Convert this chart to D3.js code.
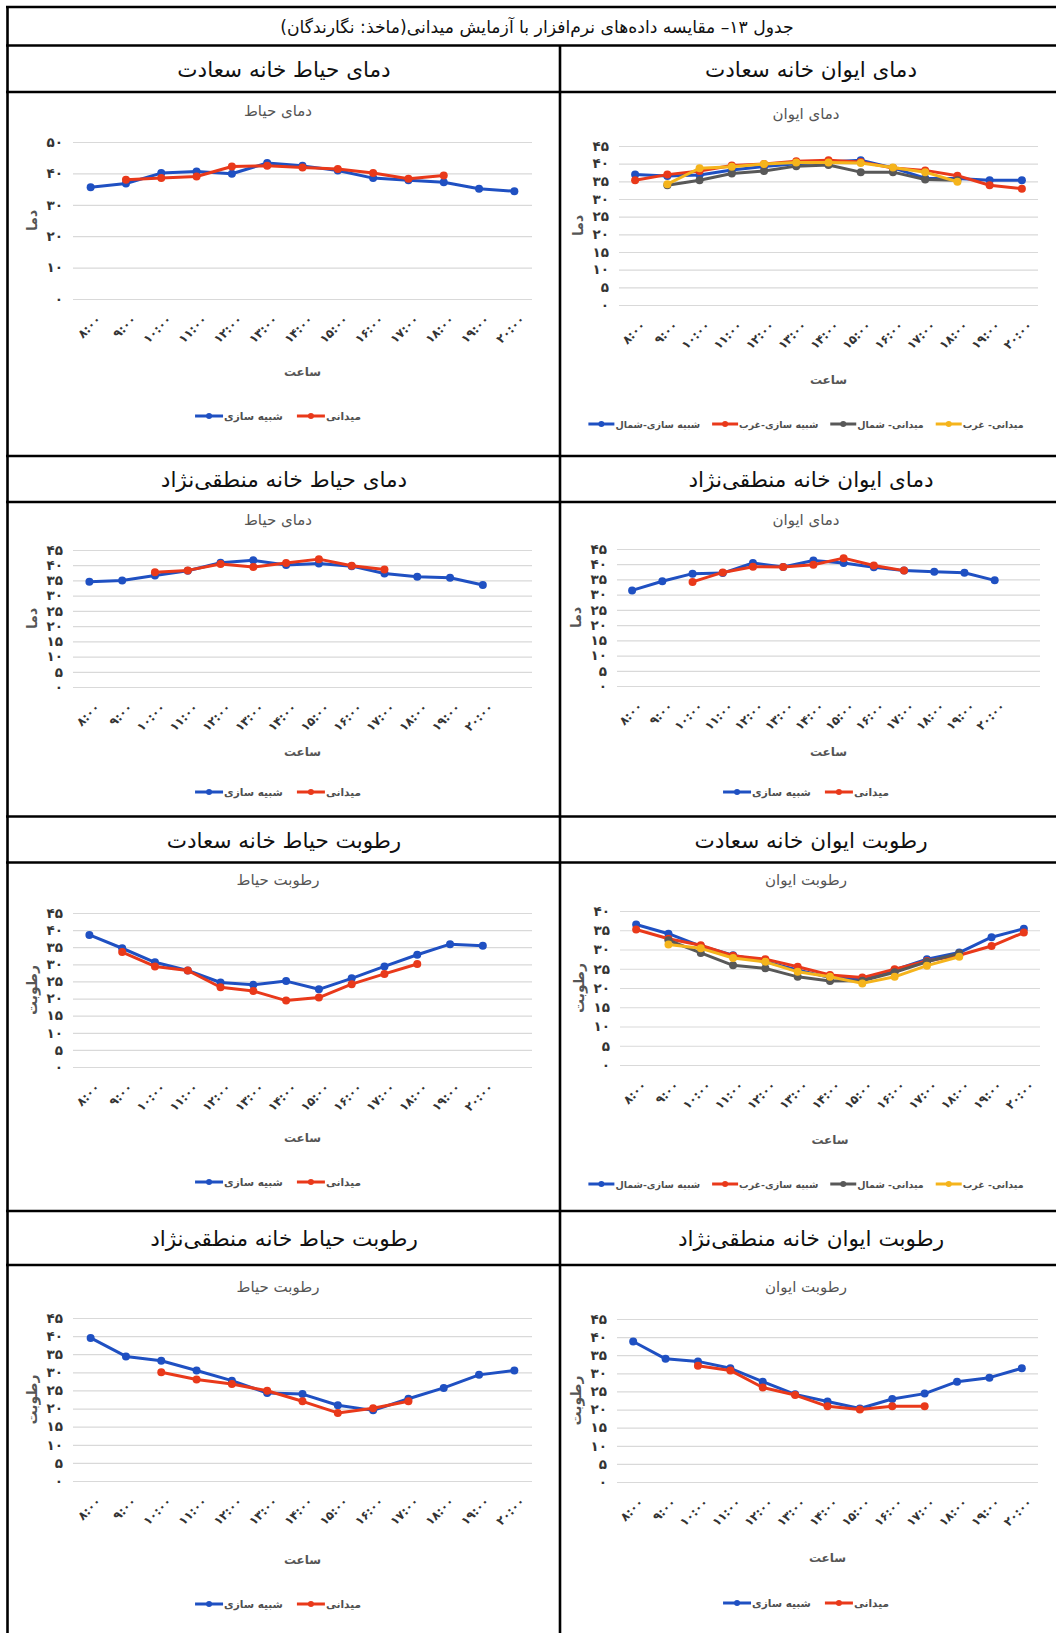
<!DOCTYPE html>
<html lang="fa">
<head>
<meta charset="utf-8">
<script src="https://cdn.jsdelivr.net/npm/d3@7"></script>
<style>
  html, body { margin: 0; padding: 0; background: #fff; }
  svg { display: block; }
  text { font-family: "DejaVu Sans", "Noto Sans", sans-serif; }
</style>
</head>
<body>
<svg id="fig" width="1056" height="1633"></svg>
<script>
// ---------- categories & labels ----------
const hourLabels = ["۸:۰۰","۹:۰۰","۱۰:۰۰","۱۱:۰۰","۱۲:۰۰","۱۳:۰۰","۱۴:۰۰","۱۵:۰۰","۱۶:۰۰","۱۷:۰۰","۱۸:۰۰","۱۹:۰۰","۲۰:۰۰"];
const tableTitle = "جدول ۱۳– مقایسه داده\u200cهای نرم\u200cافزار با آزمایش میدانی(ماخذ: نگارندگان)";
const rowHeadersLeft  = ["دمای حیاط خانه سعادت", "دمای حیاط خانه منطقی\u200cنژاد", "رطوبت حیاط خانه سعادت", "رطوبت حیاط خانه منطقی\u200cنژاد"];
const rowHeadersRight = ["دمای ایوان خانه سعادت", "دمای ایوان خانه منطقی\u200cنژاد", "رطوبت ایوان خانه سعادت", "رطوبت ایوان خانه منطقی\u200cنژاد"];
const seriesNames2 = ["شبیه سازی", "میدانی"];
const seriesNames4 = ["شبیه سازی-شمال", "شبیه سازی-غرب", "میدانی- شمال", "میدانی- غرب"];
const xAxisTitle = "ساعت";

// ---------- series values (one per hour, null = not measured) ----------
// Saadat house, yard temperature
const saadatYardTempSim   = [35.6, 36.8, 40.1, 40.6, 39.9, 43.3, 42.4, 40.9, 38.5, 37.8, 37.2, 35.1, 34.3];
const saadatYardTempField = [null, 38.0, 38.5, 39.0, 42.2, 42.4, 41.9, 41.4, 40.1, 38.3, 39.3, null, null];
// Saadat house, porch temperature
const saadatIvanTempSimN   = [36.9, 36.5, 36.8, 38.2, 39.2, 40.0, 40.5, 41.0, 38.8, 35.9, 35.8, 35.3, 35.3];
const saadatIvanTempSimW   = [35.3, 36.9, 37.9, 39.5, 39.9, 40.7, 41.0, 40.5, 38.8, 38.1, 36.6, 33.9, 32.9];
const saadatIvanTempFieldN = [null, 33.9, 35.3, 37.2, 37.9, 39.3, 39.6, 37.6, 37.6, 35.5, 35.3, null, null];
const saadatIvanTempFieldW = [null, 34.2, 38.7, 39.1, 39.9, 40.3, 40.3, 40.2, 38.9, 37.6, 34.9, null, null];
// Manteghi-Nejad house, yard temperature
const manteghiYardTempSim   = [34.6, 35.0, 36.6, 38.2, 40.8, 41.6, 40.1, 40.6, 39.7, 37.3, 36.2, 35.9, 33.5];
const manteghiYardTempField = [null, null, 37.7, 38.3, 40.4, 39.4, 40.7, 42.0, 39.8, 38.6, null, null, null];
// Manteghi-Nejad house, porch temperature
const manteghiIvanTempSim   = [31.4, 34.4, 36.9, 37.1, 40.4, 39.1, 41.2, 40.4, 39.0, 37.9, 37.5, 37.2, 34.7];
const manteghiIvanTempField = [null, null, 34.2, 37.3, 39.2, 39.1, 39.8, 42.0, 39.6, 37.9, null, null, null];
// Saadat house, yard humidity
const saadatYardHumSim   = [38.6, 34.7, 30.6, 28.2, 24.7, 24.0, 25.1, 22.7, 25.9, 29.4, 32.8, 35.9, 35.4];
const saadatYardHumField = [null, 33.6, 29.4, 28.2, 23.3, 22.2, 19.4, 20.3, 24.2, 27.2, 30.1, null, null];
// Saadat house, porch humidity
const saadatIvanHumSimN   = [36.5, 34.1, 30.9, 28.5, 26.8, 24.7, 22.7, 22.2, 24.7, 27.5, 29.2, 33.2, 35.4];
const saadatIvanHumSimW   = [35.2, 32.8, 31.1, 28.4, 27.5, 25.5, 23.4, 22.7, 24.9, 27.0, 28.5, 30.9, 34.4];
const saadatIvanHumFieldN = [null, 32.4, 29.1, 25.9, 25.1, 22.9, 21.8, 21.9, 24.1, 26.8, 29.0, null, null];
const saadatIvanHumFieldW = [null, 31.3, 30.3, 27.8, 26.8, 24.2, 22.9, 21.2, 22.9, 25.8, 28.1, null, null];
// Manteghi-Nejad house, yard humidity
const manteghiYardHumSim   = [39.5, 34.4, 33.2, 30.5, 27.7, 24.3, 24.0, 20.9, 19.5, 22.7, 25.7, 29.3, 30.5];
const manteghiYardHumField = [null, null, 30.0, 28.0, 26.8, 24.9, 22.0, 18.8, 20.1, 22.0, null, null, null];
// Manteghi-Nejad house, porch humidity
const manteghiIvanHumSim   = [38.8, 34.0, 33.3, 31.4, 27.7, 24.2, 22.2, 20.3, 22.9, 24.4, 27.7, 28.8, 31.4];
const manteghiIvanHumField = [null, null, 32.1, 30.8, 26.1, 24.0, 20.9, 20.0, 20.9, 20.9, null, null, null];

// ---------- styling ----------
const BLUE = "#1f50c2", RED = "#e9391a", GRAY = "#585858", ORANGE = "#f5b41c";
const colors2 = [BLUE, RED];
const colors4 = [BLUE, RED, GRAY, ORANGE];
const toFa = s => String(s).replace(/\d/g, d => "۰۱۲۳۴۵۶۷۸۹"[+d]);

const svg = d3.select("#fig");

// ---------- table frame ----------
const hLines = [7, 45.5, 92, 456, 502, 816.5, 862.5, 1211, 1265];
const frame = svg.append("g").attr("stroke", "#000").attr("stroke-width", 2.6);
hLines.forEach(yy => frame.append("line").attr("x1", 6).attr("x2", 1056).attr("y1", yy).attr("y2", yy));
frame.append("line").attr("x1", 7.5).attr("x2", 7.5).attr("y1", 6).attr("y2", 1633);
frame.append("line").attr("x1", 560).attr("x2", 560).attr("y1", 45.5).attr("y2", 1633);

svg.append("text").attr("x", 537).attr("y", 26.5)
  .attr("text-anchor", "middle").attr("dominant-baseline", "central")
  .attr("direction", "rtl").attr("font-size", 17.2).attr("fill", "#111")
  .text(tableTitle);

const headerY = [69, 479.5, 840, 1238];
headerY.forEach((yy, i) => {
  svg.append("text").attr("x", 284).attr("y", yy).attr("text-anchor", "middle")
    .attr("dominant-baseline", "central").attr("direction", "rtl")
    .attr("font-size", 21.5).attr("fill", "#111").text(rowHeadersLeft[i]);
  svg.append("text").attr("x", 811).attr("y", yy).attr("text-anchor", "middle")
    .attr("dominant-baseline", "central").attr("direction", "rtl")
    .attr("font-size", 21.5).attr("fill", "#111").text(rowHeadersRight[i]);
});

// ---------- chart definitions ----------
const L = { x0: 73, x1: 532, cx: 278 };
const R = { x0: 619, x1: 1038, cx: 806 };
const charts = [
  { ...L, top: 142, bottom: 299, yMax: 50, yStep: 10, slots: 13, title: "دمای حیاط", yTitle: "دما",
    titleY: 111, xTitleY: 372, legendY: 416, names: seriesNames2, colors: colors2,
    series: [saadatYardTempSim, saadatYardTempField] },
  { ...R, top: 146, bottom: 305, yMax: 45, yStep: 5, slots: 13, title: "دمای ایوان", yTitle: "دما",
    titleY: 114, xTitleY: 380, legendY: 424, names: seriesNames4, colors: colors4,
    series: [saadatIvanTempSimN, saadatIvanTempSimW, saadatIvanTempFieldN, saadatIvanTempFieldW] },
  { ...L, top: 550, bottom: 687, yMax: 45, yStep: 5, slots: 14, title: "دمای حیاط", yTitle: "دما",
    titleY: 520, xTitleY: 752, legendY: 792, names: seriesNames2, colors: colors2,
    series: [manteghiYardTempSim, manteghiYardTempField] },
  { ...R, x0: 617, x1: 1040, top: 549, bottom: 686, yMax: 45, yStep: 5, slots: 14, title: "دمای ایوان", yTitle: "دما",
    titleY: 520, xTitleY: 752, legendY: 792, names: seriesNames2, colors: colors2,
    series: [manteghiIvanTempSim, manteghiIvanTempField] },
  { ...L, top: 913, bottom: 1067, yMax: 45, yStep: 5, slots: 14, title: "رطوبت حیاط", yTitle: "رطوبت",
    titleY: 880, xTitleY: 1138, legendY: 1182, names: seriesNames2, colors: colors2,
    series: [saadatYardHumSim, saadatYardHumField] },
  { ...R, x0: 620, x1: 1040, top: 911, bottom: 1065, yMax: 40, yStep: 5, slots: 13, title: "رطوبت ایوان", yTitle: "رطوبت",
    titleY: 880, xTitleY: 1140, legendY: 1184, names: seriesNames4, colors: colors4,
    series: [saadatIvanHumSimN, saadatIvanHumSimW, saadatIvanHumFieldN, saadatIvanHumFieldW] },
  { ...L, top: 1318, bottom: 1481, yMax: 45, yStep: 5, slots: 13, title: "رطوبت حیاط", yTitle: "رطوبت",
    titleY: 1287, xTitleY: 1560, legendY: 1604, names: seriesNames2, colors: colors2,
    series: [manteghiYardHumSim, manteghiYardHumField] },
  { ...R, x0: 617, x1: 1038, top: 1319, bottom: 1482, yMax: 45, yStep: 5, slots: 13, title: "رطوبت ایوان", yTitle: "رطوبت",
    titleY: 1287, xTitleY: 1558, legendY: 1603, names: seriesNames2, colors: colors2,
    series: [manteghiIvanHumSim, manteghiIvanHumField] }
];

function drawChart(c) {
  const g = svg.append("g");
  const x = d3.scaleBand().domain(d3.range(c.slots)).range([c.x0, c.x1]);
  const y = d3.scaleLinear().domain([0, c.yMax]).range([c.bottom, c.top]);
  const px = i => x(i) + x.bandwidth() / 2;

  // chart title
  g.append("text").attr("x", c.cx).attr("y", c.titleY).attr("text-anchor", "middle")
    .attr("dominant-baseline", "central").attr("direction", "rtl")
    .attr("font-size", 15).attr("fill", "#555").text(c.title);

  // value axis with horizontal gridlines
  const yAxis = g.append("g").attr("transform", `translate(${c.x0},0)`)
    .call(d3.axisLeft(y).tickValues(d3.range(0, c.yMax + 0.01, c.yStep))
      .tickSize(-(c.x1 - c.x0)).tickPadding(10).tickFormat(toFa));
  yAxis.select(".domain").remove();
  yAxis.selectAll(".tick line").attr("stroke", "#d9d9d9").attr("stroke-width", 1.2);
  yAxis.selectAll(".tick text").attr("fill", "#333").attr("font-size", 13.5)
    .attr("font-weight", "bold").style("font-family", "DejaVu Sans");

  // category axis with slanted hour labels
  const xAxis = g.append("g").attr("transform", `translate(0,${c.bottom})`)
    .call(d3.axisBottom(x).tickSize(0).tickFormat(i => hourLabels[i] || ""));
  xAxis.select(".domain").remove();
  xAxis.selectAll(".tick text")
    .attr("x", 0).attr("y", 0).attr("dy", 0)
    .attr("text-anchor", "end")
    .attr("transform", "translate(11,21) rotate(-45)")
    .attr("fill", "#333").attr("font-size", 12).attr("font-weight", "bold");

  // axis titles
  g.append("text").attr("x", (c.x0 + c.x1) / 2).attr("y", c.xTitleY)
    .attr("text-anchor", "middle").attr("dominant-baseline", "central")
    .attr("font-size", 12).attr("font-weight", "bold").attr("fill", "#555").text(xAxisTitle);
  g.append("text")
    .attr("transform", `translate(${c.x0 - 41},${(c.top + c.bottom) / 2}) rotate(-90)`)
    .attr("text-anchor", "middle").attr("dominant-baseline", "central")
    .attr("font-size", 14).attr("font-weight", "bold").attr("fill", "#555").text(c.yTitle);

  // series lines and markers
  const line = d3.line().defined(d => d != null).x((d, i) => px(i)).y(d => y(d));
  c.series.forEach((vals, k) => {
    const s = g.append("g");
    s.append("path").datum(vals).attr("d", line).attr("fill", "none")
      .attr("stroke", c.colors[k]).attr("stroke-width", 3).attr("stroke-linejoin", "round");
    s.selectAll("circle").data(vals.map((v, i) => ({ v, i })).filter(d => d.v != null))
      .join("circle").attr("cx", d => px(d.i)).attr("cy", d => y(d.v)).attr("r", 4)
      .attr("fill", c.colors[k]);
  });

  // legend
  const many = c.names.length > 2;
  const fs = many ? 9.5 : 10.5, gap = many ? 12 : 14, seg = many ? 26 : 28;
  const lg = g.append("g");
  let off = 0;
  c.names.forEach((name, k) => {
    const it = lg.append("g").attr("transform", `translate(${off},0)`);
    it.append("line").attr("x1", 0).attr("x2", seg).attr("stroke", c.colors[k]).attr("stroke-width", 3);
    it.append("circle").attr("cx", seg / 2).attr("r", 3).attr("fill", c.colors[k]);
    const t = it.append("text").attr("x", seg + 1).attr("dominant-baseline", "central")
      .attr("font-size", fs).attr("font-weight", "bold").attr("fill", "#505050").text(name);
    off += seg + 1 + t.node().getComputedTextLength() + gap;
  });
  off -= gap;
  lg.attr("transform", `translate(${c.cx - off / 2},${c.legendY})`);
}

charts.forEach(drawChart);
</script>
</body>
</html>
